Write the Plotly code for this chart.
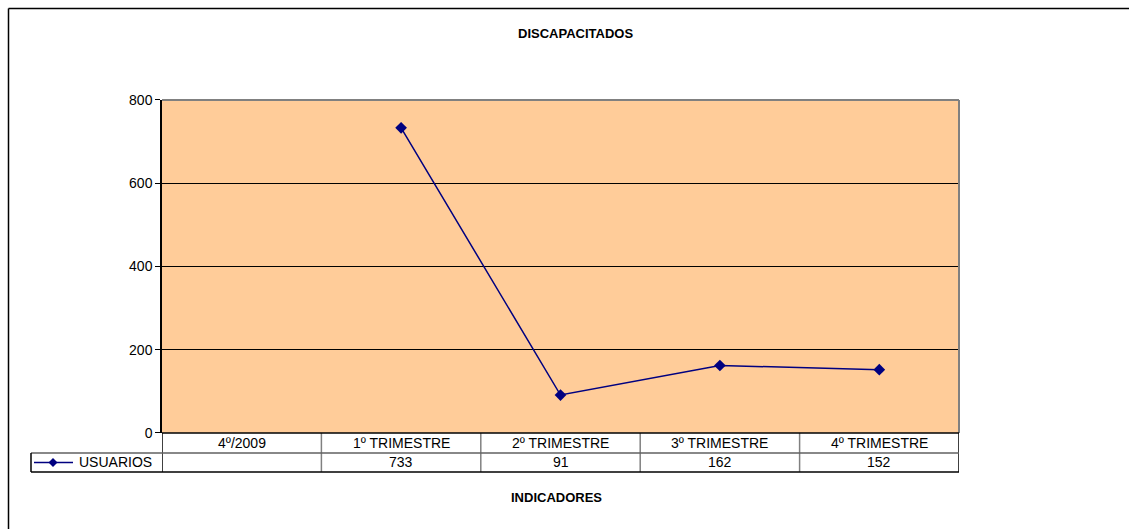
import plotly.graph_objects as go

# data
categorias = ['4º/2009', '1º TRIMESTRE', '2º TRIMESTRE', '3º TRIMESTRE', '4º TRIMESTRE']
usuarios = [None, 733, 91, 162, 152]
serie_nombre = 'USUARIOS'
y_ticks = [0, 200, 400, 600, 800]

W, H = 1129, 529
FONT = 'Liberation Sans, Arial, sans-serif'

# vertical calibration measured on the photographed page (y_img = 8 + 0.97*y_page)
Y_OFF, Y_SC = 8.0, 0.97

def px(x):
    return x / W

def py(y):
    return 1 - ((y - Y_OFF) / Y_SC) / H

# plot area in pixels (as seen in the picture)
left, right, top, bottom = 162, 959, 100, 433
row1, row2 = 453, 472
leg_left = 31

fig = go.Figure()
fig.add_trace(go.Scatter(
    x=list(range(len(categorias))), y=usuarios, mode='lines+markers',
    line=dict(color='#000080', width=1.5),
    marker=dict(symbol='diamond', size=9, color='#000080'),
    name=serie_nombre, showlegend=False, connectgaps=False))

shapes = []
# chart outer border (left and top)
shapes.append(dict(type='line', xref='paper', yref='paper', x0=px(8.5), x1=px(8.5),
                   y0=py(8.5), y1=py(560), line=dict(color='black', width=1.5)))
shapes.append(dict(type='line', xref='paper', yref='paper', x0=px(8.5), x1=px(1140),
                   y0=py(8.5), y1=py(8.5), line=dict(color='black', width=1.5)))
# plot area top/right border (gray)
shapes.append(dict(type='line', xref='paper', yref='paper', x0=px(left), x1=px(right),
                   y0=py(top), y1=py(top), line=dict(color='#808080', width=2)))
shapes.append(dict(type='line', xref='paper', yref='paper', x0=px(right), x1=px(right),
                   y0=py(top), y1=py(bottom), line=dict(color='#808080', width=2)))

# data table
n = len(categorias)
for i in range(n + 1):
    col = '#000000' if i in (0, n) else '#808080'
    shapes.append(dict(type='line', xref='x', yref='paper', x0=i - 0.5, x1=i - 0.5,
                       y0=py(bottom), y1=py(row2), line=dict(color=col, width=1.5)))
shapes.append(dict(type='line', xref='paper', yref='paper', x0=px(left), x1=px(right),
                   y0=py(bottom), y1=py(bottom), line=dict(color='black', width=1.5)))
shapes.append(dict(type='line', xref='paper', yref='paper', x0=px(leg_left), x1=px(right),
                   y0=py(row1), y1=py(row1), line=dict(color='#606060', width=1.5)))
shapes.append(dict(type='line', xref='paper', yref='paper', x0=px(leg_left), x1=px(right),
                   y0=py(row2), y1=py(row2), line=dict(color='black', width=1.5)))
shapes.append(dict(type='line', xref='paper', yref='paper', x0=px(leg_left), x1=px(leg_left),
                   y0=py(row1), y1=py(row2), line=dict(color='black', width=1.5)))
# legend key in the table
ly = (row1 + row2) / 2
shapes.append(dict(type='line', xref='paper', yref='paper', x0=px(34), x1=px(73),
                   y0=py(ly), y1=py(ly), line=dict(color='#000080', width=1.5)))
d = 4.5
shapes.append(dict(type='path', xref='paper', yref='paper',
                   path='M {} {} L {} {} L {} {} L {} {} Z'.format(
                       px(53), py(ly - d), px(53 + d), py(ly), px(53), py(ly + d), px(53 - d), py(ly)),
                   fillcolor='#000080', line=dict(color='#000080', width=0)))

txt = dict(size=14, color='black', family=FONT)
annotations = []
for i, (c, v) in enumerate(zip(categorias, usuarios)):
    annotations.append(dict(x=i, y=py((bottom + row1) / 2), xref='x', yref='paper', text=c,
                            xanchor='center', yanchor='middle', showarrow=False, font=txt))
    annotations.append(dict(x=i, y=py(ly), xref='x', yref='paper',
                            text='' if v is None else str(v),
                            xanchor='center', yanchor='middle', showarrow=False, font=txt))
annotations.append(dict(x=px(77), y=py(ly), xref='paper', yref='paper', text=serie_nombre,
                        xanchor='left', yanchor='middle', showarrow=False, font=txt))
annotations.append(dict(x=px(575), y=py(34), xref='paper', yref='paper', text='<b>DISCAPACITADOS</b>',
                        xanchor='center', yanchor='middle', showarrow=False,
                        font=dict(size=13, color='black', family=FONT)))
annotations.append(dict(x=px(556), y=py(498), xref='paper', yref='paper', text='<b>INDICADORES</b>',
                        xanchor='center', yanchor='middle', showarrow=False,
                        font=dict(size=13, color='black', family=FONT)))

fig.update_layout(
    width=W, height=H, autosize=False,
    margin=dict(l=0, r=0, t=0, b=0),
    paper_bgcolor='white', plot_bgcolor='#FFCC99',
    font=dict(family=FONT, size=13, color='black'),
    shapes=shapes, annotations=annotations,
    xaxis=dict(domain=[px(left), px(right)], range=[-0.5, n - 0.5], showticklabels=False,
               showgrid=False, zeroline=False, showline=False, fixedrange=True),
    yaxis=dict(domain=[py(bottom), py(top)], range=[0, 800], tickvals=y_ticks,
               showgrid=True, gridcolor='black', gridwidth=1, zeroline=False,
               showline=True, linecolor='black', linewidth=1.5,
               ticks='outside', ticklen=5, tickcolor='black',
               tickfont=dict(size=14, family=FONT), fixedrange=True),
)

# page margin off and size pinned so the figure fills the window exactly
post = ("document.body.style.margin='0';document.body.style.overflow='hidden';"
        "var gd=document.getElementById('{plot_id}');"
        "gd.style.width='%dpx';gd.style.height='%dpx';"
        "Plotly.relayout(gd,{width:%d,height:%d});" % (W, H, W, H))
fig.write_html('out.html', config={'displayModeBar': False}, post_script=post)
